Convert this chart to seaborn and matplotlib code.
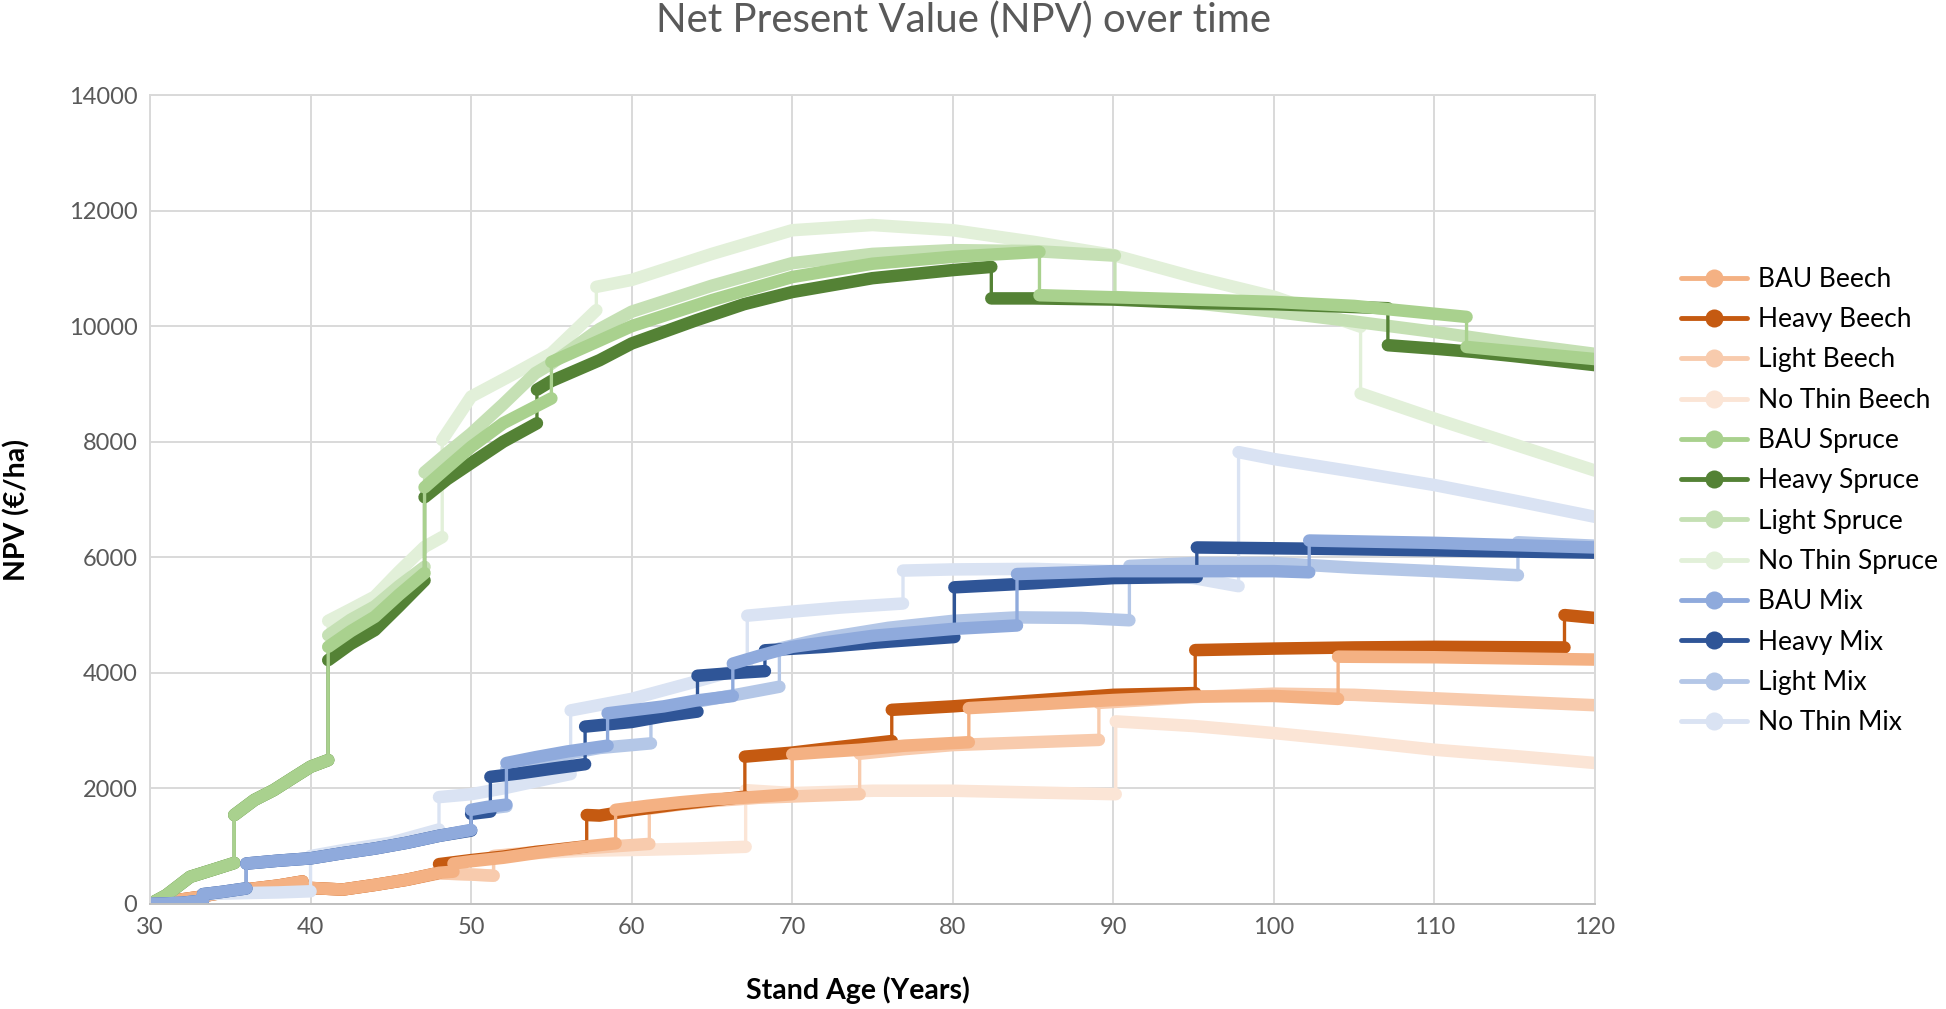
import matplotlib
matplotlib.use("Agg")
import matplotlib.pyplot as plt
import seaborn as sns
import pandas as pd
from matplotlib.lines import Line2D

# ---------------- data (age in years, NPV in EUR/ha) ----------------
# each series: list of continuous segments; a new segment starts at a thinning jump
bau_beech = [
    [(30, 0), (31.5, 60), (33, 120), (35, 220), (36.5, 270), (38, 320), (39.5, 390)],
    [(39.8, 280), (42, 250), (44, 330), (46, 420), (48, 540), (48.9, 560)],
    [(48.9, 700), (50, 740), (52, 800), (54, 880), (57, 990), (59, 1050)],
    [(59, 1630), (61, 1700), (63, 1760), (65, 1810), (67, 1840), (70, 1900)],
    [(70, 2590), (72, 2630), (74.2, 2670), (77, 2740), (81, 2800)],
    [(81, 3390), (85, 3450), (90, 3530), (95, 3590), (100, 3600), (104, 3550)],
    [(104, 4280), (110, 4270), (115, 4250), (120, 4230)],
]
heavy_beech = [
    [(30, 0), (31.5, 60), (33, 120), (35, 220), (36.5, 270), (38, 320), (39.5, 390)],
    [(39.8, 280), (42, 250), (44, 330), (46, 420), (48, 540)],
    [(48, 690), (50, 760), (52, 820), (54, 900), (57.2, 1000)],
    [(57.2, 1540), (58, 1530), (60, 1620), (63, 1730), (67.05, 1857)],
    [(67.05, 2550), (70, 2620), (73, 2720), (76.2, 2820)],
    [(76.2, 3360), (80, 3420), (85, 3520), (90, 3620), (95.1, 3650)],
    [(95.1, 4394), (100, 4420), (105, 4440), (110, 4450), (118.1, 4440)],
    [(118.1, 5000), (120, 4950)],
]
light_beech = [
    [(30, 0), (31.5, 60), (33, 120), (35, 220), (36.5, 270), (38, 320), (39.5, 390)],
    [(39.8, 280), (42, 250), (44, 330), (46, 420), (48, 530), (50, 510), (51.4, 490)],
    [(51.4, 830), (54, 900), (57, 960), (59, 1000), (61.1, 1040)],
    [(61.1, 1650), (63, 1720), (65, 1780), (68, 1840), (70, 1860), (72, 1880), (74.2, 1900)],
    [(74.2, 2600), (77, 2680), (80, 2750), (85, 2800), (89.1, 2840)],
    [(89.1, 3480), (95, 3580), (100, 3640), (105, 3620), (110, 3560), (115, 3500), (120, 3440)],
]
nothin_beech = [
    [(30, 0), (31.5, 60), (33, 120), (35, 220), (36.5, 270), (38, 320), (39.5, 390)],
    [(39.8, 280), (42, 250), (44, 330), (46, 420), (48, 530), (50, 510), (51.4, 490)],
    [(51.4, 830), (54, 880), (57, 920), (61, 940), (64, 960), (67.1, 990)],
    [(67.1, 1970), (70, 1920), (75, 1960), (80, 1960), (85, 1930), (90.15, 1900)],
    [(90.15, 3160), (95, 3080), (100, 2958), (105, 2820), (110, 2670), (115, 2560), (120, 2440)],
]
bau_spruce = [
    [(30, 0), (31, 150), (32.5, 470), (34, 600), (35.25, 710)],
    [(35.25, 1540), (36.5, 1800), (37.7, 1970), (39, 2200), (40, 2375), (41.1, 2490)],
    [(41.1, 4450), (42.5, 4720), (44, 4970), (45.5, 5350), (47.1, 5726)],
    [(47.1, 7210), (48.5, 7550), (50, 7910), (52, 8320), (55, 8750)],
    [(55, 9380), (58, 9750), (60, 10000), (65, 10450), (70, 10850), (75, 11080), (80, 11200), (85.4, 11285)],
    [(85.4, 10535), (90, 10500), (95, 10460), (100, 10420), (105, 10350), (112, 10160)],
    [(112, 9640), (115, 9560), (120, 9430)],
]
heavy_spruce = [
    [(30, 0), (31, 150), (32.5, 470), (34, 600), (35.25, 710)],
    [(35.25, 1540), (36.5, 1800), (37.7, 1970), (39, 2200), (40, 2375), (41.1, 2490)],
    [(41.1, 4220), (42.5, 4500), (44, 4740), (45.5, 5150), (47.1, 5600)],
    [(47.1, 7040), (48.5, 7350), (50, 7630), (52, 8000), (54.1, 8320)],
    [(54.1, 8900), (55, 9050), (58, 9410), (60, 9700), (64, 10100), (67, 10380), (70, 10590),
     (75, 10830), (80, 10970), (82.4, 11025)],
    [(82.4, 10480), (85, 10480), (90, 10460), (95, 10400), (100, 10380), (107.1, 10310)],
    [(107.1, 9670), (110, 9610), (112.4, 9555), (115, 9480), (120, 9325)],
]
light_spruce = [
    [(30, 0), (31, 150), (32.5, 470), (34, 600), (35.25, 710)],
    [(35.25, 1540), (36.5, 1800), (37.7, 1970), (39, 2200), (40, 2375), (41.1, 2490)],
    [(41.1, 4650), (42.5, 4920), (44, 5150), (45.5, 5500), (47.1, 5835)],
    [(47.1, 7470), (48.5, 7800), (50, 8140), (52, 8650), (54, 9186), (55, 9350), (58, 9950), (60, 10250),
     (65, 10700), (70, 11090), (75, 11250), (80, 11315), (85, 11300), (90.1, 11220)],
    [(90.1, 10505), (95, 10400), (100, 10250), (105, 10080), (110, 9900), (115, 9700), (120, 9520)],
]
nothin_spruce = [
    [(30, 0), (31, 150), (32.5, 470), (34, 600), (35.25, 710)],
    [(35.25, 1540), (36.5, 1800), (37.7, 1970), (39, 2200), (40, 2375), (41.1, 2490)],
    [(41.1, 4900), (42.5, 5100), (44, 5320), (45.5, 5750), (47.1, 6180), (48.2, 6350)],
    [(48.2, 8030), (50, 8780), (52.5, 9150), (55, 9530), (57.8, 10276)],
    [(57.8, 10680), (60, 10800), (65, 11250), (70, 11660), (75, 11750), (80, 11660), (85, 11460),
     (90, 11230), (95, 10850), (100, 10510), (105.4, 9990)],
    [(105.4, 8835), (110, 8400), (115, 7950), (120, 7500)],
]
bau_mix = [
    [(30, 0), (32, 20), (33.3, 60)],
    [(33.3, 170), (34.5, 210), (36, 270)],
    [(36, 700), (38, 750), (40, 790), (42, 880), (44, 960), (46, 1060), (48, 1180), (50, 1280)],
    [(50, 1630), (51, 1680), (52.2, 1720)],
    [(52.2, 2440), (54, 2540), (56, 2640), (58.5, 2740)],
    [(58.5, 3300), (62, 3420), (64, 3520), (66.3, 3600)],
    [(66.3, 4160), (68, 4300), (70, 4450), (75, 4640), (80, 4760), (84, 4820)],
    [(84, 5710), (90, 5760), (95, 5760), (100, 5760), (102.2, 5740)],
    [(102.2, 6290), (110, 6250), (120, 6170)],
]
heavy_mix = [
    [(30, 0), (32, 20), (33.3, 60)],
    [(33.3, 170), (34.5, 210), (36, 270)],
    [(36, 700), (38, 750), (40, 790), (42, 880), (44, 960), (46, 1060), (48, 1180), (50, 1270)],
    [(50, 1560), (51.2, 1600)],
    [(51.2, 2200), (53, 2260), (55, 2340), (57.1, 2420)],
    [(57.1, 3070), (60, 3150), (62, 3250), (64.1, 3330)],
    [(64.1, 3950), (66, 3990), (68.3, 4030)],
    [(68.3, 4390), (72, 4450), (76, 4540), (80.1, 4620)],
    [(80.1, 5480), (85, 5550), (90, 5640), (95.2, 5660)],
    [(95.2, 6170), (101.9, 6150), (110, 6120), (120, 6080)],
]
light_mix = [
    [(30, 0), (32, 20), (33.3, 60)],
    [(33.3, 170), (34.5, 210), (36, 270)],
    [(36, 700), (38, 750), (40, 790), (42, 880), (44, 960), (46, 1060), (48, 1180), (50, 1280)],
    [(50, 1600), (51, 1650), (52.2, 1690)],
    [(52.2, 2350), (54, 2450), (56, 2600), (58, 2700), (61.2, 2780)],
    [(61.2, 3350), (64, 3500), (66.5, 3620), (69.2, 3760)],
    [(69.2, 4420), (72, 4600), (76, 4780), (80, 4900), (84, 4960), (88, 4950), (91, 4910)],
    [(91, 5850), (95, 5900), (100, 5900), (105, 5820), (110, 5760), (115.2, 5690)],
    [(115.2, 6260), (120, 6200)],
]
nothin_mix = [
    [(30, 0), (32, 20), (33.3, 60)],
    [(33.3, 170), (36, 190), (38, 200), (40, 220)],
    [(40, 830), (42, 930), (45, 1060), (48, 1290)],
    [(48, 1850), (50, 1900), (52, 2000), (54, 2120), (56.2, 2250)],
    [(56.2, 3350), (60, 3550), (64, 3850), (67.2, 4100)],
    [(67.2, 4990), (70, 5060), (73, 5130), (76.9, 5200)],
    [(76.9, 5770), (80, 5790), (85, 5800), (90, 5760), (95, 5640), (97.8, 5500)],
    [(97.8, 7820), (100, 7700), (105, 7480), (110, 7250), (115, 6980), (120, 6700)],
]

legend_names = ["BAU Beech", "Heavy Beech", "Light Beech", "No Thin Beech",
                "BAU Spruce", "Heavy Spruce", "Light Spruce", "No Thin Spruce",
                "BAU Mix", "Heavy Mix", "Light Mix", "No Thin Mix"]
series_data = [bau_beech, heavy_beech, light_beech, nothin_beech,
               bau_spruce, heavy_spruce, light_spruce, nothin_spruce,
               bau_mix, heavy_mix, light_mix, nothin_mix]
colors = ["#F4B183", "#C55A11", "#F8CBAD", "#FBE5D6",
          "#A9D18E", "#548235", "#C5E0B4", "#E2F0D9",
          "#8FAADC", "#2F5597", "#B4C7E7", "#DAE3F3"]
# drawing order: palest first, BAU on top of the shared paths
draw_order = [3, 2, 1, 0, 7, 6, 5, 4, 11, 10, 9, 8]

rows = []
for name, segs in zip(legend_names, series_data):
    order = 0
    for k, seg in enumerate(segs):
        for a, v in seg:
            rows.append(dict(series=name, seg=k, order=order, age=a, npv=v))
            order += 1
df = pd.DataFrame(rows)

# ---------------- figure ----------------
sns.set_theme(style="white")
plt.rcParams["font.family"] = ["Lato", "DejaVu Sans"]

fig = plt.figure(figsize=(19.46, 10.09), dpi=100)
ax = fig.add_axes([150 / 1946, 1 - 904 / 1009, (1595 - 150) / 1946, (904 - 95) / 1009])

for i in draw_order:
    name, col = legend_names[i], colors[i]
    d = df[df.series == name].sort_values("order")
    sns.lineplot(data=d, x="age", y="npv", sort=False, estimator=None, color=col,
                 lw=2.4, ax=ax, legend=False)
    sns.lineplot(data=d, x="age", y="npv", units="seg", sort=False, estimator=None, color=col,
                 lw=9, ax=ax, legend=False, solid_capstyle="round", solid_joinstyle="round")

ax.set_xlim(30, 120)
ax.set_ylim(0, 14000)
ax.set_xticks(range(30, 121, 10))
ax.set_yticks(range(0, 14001, 2000))
ax.grid(True, color="#D9D9D9", lw=1.4)
ax.set_axisbelow(True)
for s in ax.spines.values():
    s.set_color("#D9D9D9")
    s.set_linewidth(1.4)
ax.spines["bottom"].set_color("#BFBFBF")
ax.tick_params(axis="both", length=0, labelsize=17, labelcolor="#595959")
ax.tick_params(axis="x", pad=9)
ax.tick_params(axis="y", pad=9)
ax.set_xlabel("")
ax.set_ylabel("")

fig.text(964 / 1946, 1 - 20 / 1009, "Net Present Value (NPV) over time", ha="center", va="center",
         fontsize=29, color="#595959")
fig.text(858 / 1946, 1 - 990 / 1009, "Stand Age (Years)", ha="center", va="center",
         fontsize=20.5, fontweight="bold", color="#000000")
fig.text(17 / 1946, 1 - 510 / 1009, "NPV (€/ha)", ha="center", va="center", rotation=90,
         fontsize=20.5, fontweight="bold", color="#000000")

handles = [Line2D([], [], color=c, lw=3.5, marker="o", markersize=13, markeredgewidth=0)
           for c in colors]
fig.legend(handles, legend_names, loc="center left", bbox_to_anchor=(1681 / 1946, 1 - 501 / 1009),
           frameon=False, fontsize=19, handlelength=2.5, handletextpad=0.4, labelspacing=0.58,
           borderpad=0, borderaxespad=0, labelcolor="#000000")

fig.savefig("out.png", dpi=100)
